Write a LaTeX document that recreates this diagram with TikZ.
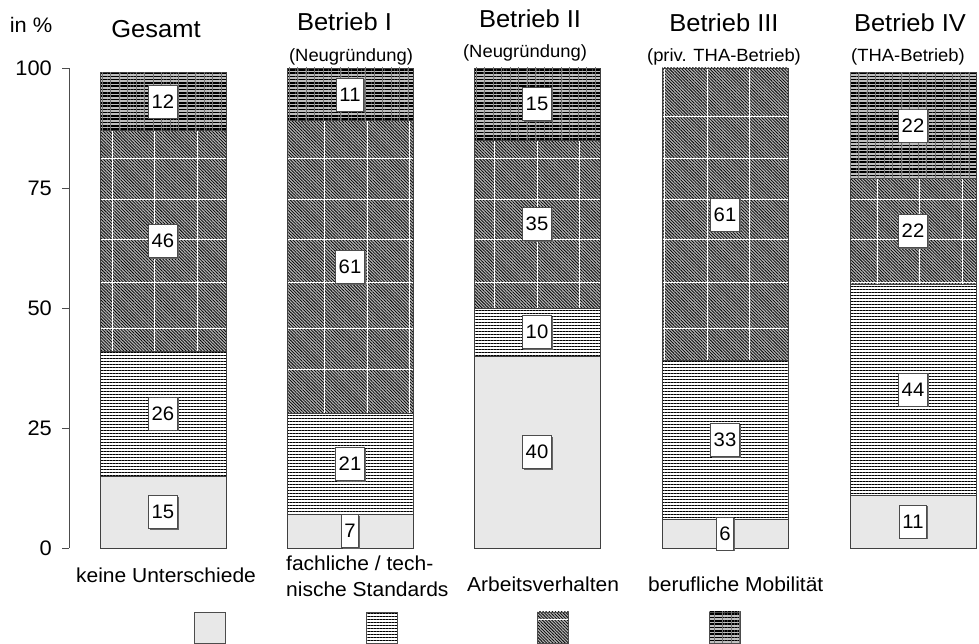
\documentclass[tikz,border=0pt]{standalone}
\usepackage{fontspec}
\setmainfont{Liberation Sans}[FakeStretch=1.04]
\usetikzlibrary{patterns.meta,shadows}

\tikzset{
  axis/.style={draw=black!70, line width=0.8pt},
  ticklabel/.style={font=\fontsize{21}{24}\selectfont, inner sep=0pt},
  title/.style={font=\fontsize{24.5}{28}\selectfont, inner sep=0pt, anchor=base},
  subtitle/.style={font=\fontsize{17.7}{20}\selectfont, inner sep=0pt, anchor=base},
  cat/.style={font=\fontsize{20.2}{23}\selectfont, inner sep=0pt},
  val/.style={draw=black!70, fill=white, line width=0.6pt, inner xsep=3pt, inner ysep=0pt,
    minimum height=33pt, font=\fontsize{19.5}{22}\selectfont,
    drop shadow={shadow xshift=1.3pt, shadow yshift=-1.3pt, fill=black!60, opacity=1}},
  keine/.style={fill=black!9},
  fach/.style={preaction={fill=white}, pattern={Lines[angle=0,distance=3pt,line width=1pt]},
    pattern color=black},
  arbeit/.style={preaction={fill=black!30}, pattern={Lines[angle=-45,distance=2.2pt,line width=0.75pt]},
    pattern color=black},
  mobil/.style={preaction={fill=black!25}, pattern={Lines[angle=0,distance=3.3pt,line width=1.6pt]},
    pattern color=black, postaction={pattern={Lines[angle=90,distance=8.5pt,line width=0.4pt]}, pattern color=black!55}},
  segline/.style={draw=black!75, line width=0.7pt},
  gridline/.style={draw=white, line width=0.9pt},
  legbox/.style={draw=black!70, line width=0.6pt, minimum size=31pt, inner sep=0pt}
}

\begin{document}
\begin{tikzpicture}[x=1pt,y=1pt]
\useasboundingbox (0,0) rectangle (979,644);

\begin{scope}[yshift=96pt,y=4.8pt]
% axis
\draw[axis] (69,0) -- (69,100);
\foreach \v in {0,25,50,75,100} {
  \draw[axis] (62,\v) -- (69,\v);
  \node[ticklabel,anchor=east] (tick\v) at (52,\v) {\v};
}

% keine Unterschiede
\foreach \x/\b in {100/15,287/7,474/40,662/6,850/11}
  \path[keine,segline] (\x,0) rectangle (\x+126,\b);
% fachliche / technische Standards
\foreach \x/\a/\b in {100/15/41,287/7/28,474/40/50,662/6/39,850/11/55}
  \path[fach,segline] (\x,\a) rectangle (\x+126,\b);
% Arbeitsverhalten
\foreach \x/\a/\b in {100/41/87,287/28/89,474/50/85,662/39/100,850/55/77} {
  \begin{scope}
    \clip (\x,\a) rectangle (\x+126,\b);
    \path[arbeit] (\x,\a) rectangle (\x+126,\b);
    \foreach \gx in {112,154.5,...,963} \draw[gridline] (\gx,0) -- (\gx,100);
    \foreach \gy in {37.3,45.8,55.4,64.2,72.7,81.25,89.8} \draw[gridline] (0,\gy) -- (979,\gy);
  \end{scope}
  \draw[segline] (\x,\a) rectangle (\x+126,\b);
}
% berufliche Mobilitaet
\foreach \x/\a/\b in {100/87/99,287/89/100,474/85/100,850/77/99}
  \path[mobil,segline] (\x,\a) rectangle (\x+126,\b);

% values
\node[val] (ges1) at (163,7.5) {15};
\node[val] (ges2) at (163,28) {26};
\node[val] (ges3) at (163,64) {46};
\node[val] (ges4) at (163,93) {12};

\node[val] (bI1) at (350,3.5) {7};
\node[val] (bI2) at (350,17.5) {21};
\node[val] (bI3) at (350,58.5) {61};
\node[val] (bI4) at (350,94.5) {11};

\node[val] (bII1) at (537,20) {40};
\node[val] (bII2) at (537,45) {10};
\node[val] (bII3) at (537,67.5) {35};
\node[val] (bII4) at (537,92.5) {15};

\node[val] (bIII1) at (725,3) {6};
\node[val] (bIII2) at (725,22.5) {33};
\node[val] (bIII3) at (725,69.5) {61};

\node[val] (bIV1) at (913,5.5) {11};
\node[val] (bIV2) at (913,33) {44};
\node[val] (bIV3) at (913,66) {22};
\node[val] (bIV4) at (913,88) {22};
\end{scope}

% titles
\node[ticklabel,anchor=base] (unit) at (31,611) {in \%};
\node[title] (tGes) at (156,606) {Gesamt};
\node[title] (tI) at (344.5,613) {Betrieb I};
\node[subtitle] (sI) at (351,582) {(Neugründung)};
\node[title] (tII) at (530,616) {Betrieb II};
\node[subtitle] (sII) at (525,586) {(Neugründung)};
\node[title] (tIII) at (724,612) {Betrieb III};
\node[subtitle] (sIII) at (724,582) {(priv. THA-Betrieb)};
\node[title] (tIV) at (910,612) {Betrieb IV};
\node[subtitle] (sIV) at (908,582) {(THA-Betrieb)};

% legend
\node[cat,anchor=base] (cat1) at (166,61) {keine Unterschiede};
\node[cat,anchor=base west] (cat2a) at (286,73) {fachliche / tech-};
\node[cat,anchor=base west] (cat2b) at (286,47) {nische Standards};
\node[cat,anchor=base west] (cat3) at (467,52) {Arbeitsverhalten};
\node[cat,anchor=base west] (cat4) at (648,52) {berufliche Mobilität};

\node[legbox,keine] (leg1) at (209.5,16.5) {};
\node[legbox,fach] (leg2) at (381.5,16.5) {};
\node[legbox,arbeit] (leg3) at (553,16.5) {};
\node[legbox,mobil] (leg4) at (725,16.5) {};
\draw[gridline] ([yshift=8.5pt,xshift=0.6pt]leg3.west) -- ([yshift=8.5pt,xshift=-0.6pt]leg3.east);
\end{tikzpicture}
\end{document}
